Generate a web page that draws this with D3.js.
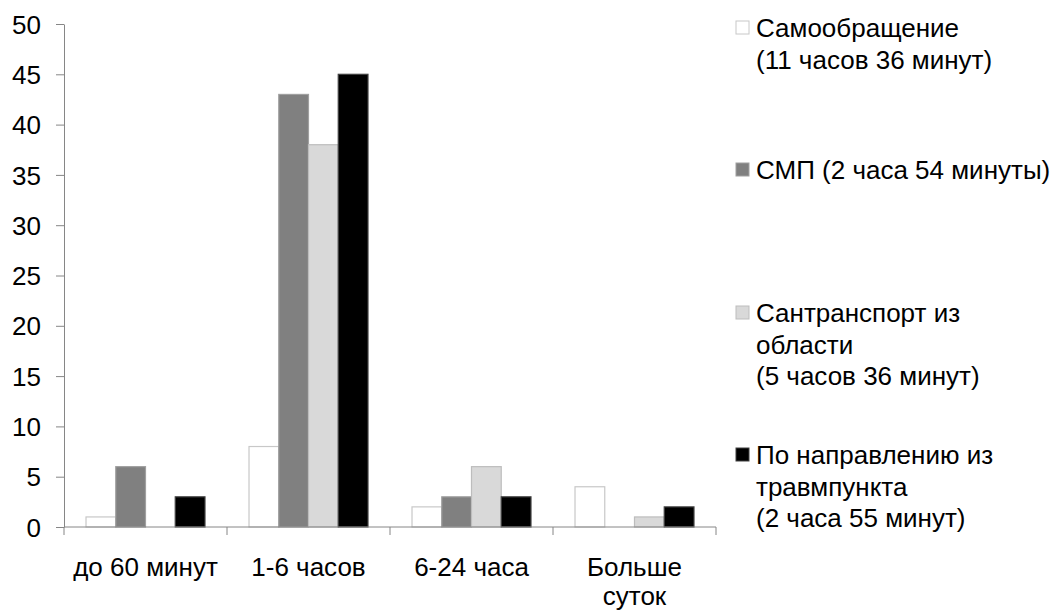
<!DOCTYPE html>
<html>
<head>
<meta charset="utf-8">
<script src="https://cdn.jsdelivr.net/npm/d3@7/dist/d3.min.js"></script>
<style>
  body { margin: 0; background: #fff; }
  svg text { font-family: "Liberation Sans", Arial, sans-serif; fill: #000; }
</style>
</head>
<body>
<div id="chart"></div>
<script>
// categories (x axis) and series
const categories = ["до 60 минут", "1-6 часов", "6-24 часа", "Больше суток"];
const categoryLines = [["до 60 минут"], ["1-6 часов"], ["6-24 часа"], ["Больше", "суток"]];

const seriesNames = ["Самообращение", "СМП", "Сантранспорт", "По направлению"];
const legendLines = [
  ["Самообращение", "(11 часов 36 минут)"],
  ["СМП (2 часа 54 минуты)"],
  ["Сантранспорт из", "области", "(5 часов 36 минут)"],
  ["По направлению из", "травмпункта", "(2 часа 55 минут)"]
];

// values per series, in category order
const selfValues = [1, 8, 2, 4];
const smpValues = [6, 43, 3, 0];
const transportValues = [0, 38, 6, 1];
const referralValues = [3, 45, 3, 2];

const yTicks = [0, 5, 10, 15, 20, 25, 30, 35, 40, 45, 50];

const seriesValues = [selfValues, smpValues, transportValues, referralValues];
const fills = ["#ffffff", "#808080", "#d9d9d9", "#000000"];
const strokes = ["#c8c8c8", "#a0a0a0", "#bdbdbd", "#404040"];

// dimensions
const totalWidth = 1059, totalHeight = 610;
const margin = {top: 24, left: 64};
const plotWidth = 652, plotHeight = 503;
const fontSize = "26px";

const svg = d3.select("#chart")
  .append("svg")
    .attr("width", totalWidth)
    .attr("height", totalHeight);

const g = svg.append("g")
    .attr("transform", "translate(" + margin.left + "," + margin.top + ")");

// scales
const x = d3.scaleBand()
  .domain(categories)
  .range([0, plotWidth])
  .padding(0);

const x1 = d3.scaleBand()
  .domain(seriesNames)
  .range([0, x.bandwidth()])
  .paddingInner(0)
  .paddingOuter(0.74);

const y = d3.scaleLinear()
  .domain([0, 50])
  .range([plotHeight, 0]);

// y axis
const yAxis = g.append("g")
  .call(d3.axisLeft(y).tickValues(yTicks).tickSize(8).tickPadding(15).tickSizeOuter(0));
yAxis.select(".domain").attr("stroke", "#868686");
yAxis.selectAll(".tick line").attr("stroke", "#868686");
yAxis.selectAll(".tick text")
  .style("font-size", fontSize)
  .attr("dy", "0.35em");

// bars
const data = [];
categories.forEach(function(c, i) {
  seriesNames.forEach(function(s, j) {
    data.push({cat: c, series: s, idx: j, value: seriesValues[j][i]});
  });
});

g.selectAll(".bar")
  .data(data.filter(function(d) { return d.value > 0; }))
  .enter()
  .append("rect")
    .attr("class", "bar")
    .attr("x", function(d) { return x(d.cat) + x1(d.series); })
    .attr("y", function(d) { return y(d.value); })
    .attr("width", x1.bandwidth())
    .attr("height", function(d) { return y(0) - y(d.value); })
    .attr("fill", function(d) { return fills[d.idx]; })
    .attr("stroke", function(d) { return strokes[d.idx]; })
    .attr("stroke-width", 1.2);

// x axis: line and ticks between categories
const xAxis = g.append("g")
  .attr("transform", "translate(0," + plotHeight + ")");

xAxis.append("line")
  .attr("x1", 0).attr("x2", plotWidth)
  .attr("y1", 0).attr("y2", 0)
  .attr("stroke", "#868686");

const boundaries = categories.map(function(c) { return x(c); }).concat([x.range()[1]]);
xAxis.selectAll(".xtick")
  .data(boundaries)
  .enter()
  .append("line")
    .attr("class", "xtick")
    .attr("x1", function(d) { return d; })
    .attr("x2", function(d) { return d; })
    .attr("y1", 0)
    .attr("y2", 8)
    .attr("stroke", "#868686");

const xLabels = xAxis.selectAll(".xlabel")
  .data(categories)
  .enter()
  .append("text")
    .attr("class", "xlabel")
    .attr("text-anchor", "middle")
    .style("font-size", fontSize)
    .attr("transform", function(d) { return "translate(" + (x(d) + x.bandwidth() / 2) + ",49)"; });

xLabels.each(function(d, i) {
  const t = d3.select(this);
  categoryLines[i].forEach(function(line, k) {
    t.append("tspan")
      .attr("x", 0)
      .attr("dy", k === 0 ? 0 : 29)
      .text(line);
  });
});

// legend
const legendX = 736;
const legendY = [28, 170, 313, 455];
const lineStep = 31.5;

const legend = svg.selectAll(".legend")
  .data(seriesNames)
  .enter()
  .append("g")
    .attr("class", "legend")
    .attr("transform", function(d, i) { return "translate(" + legendX + "," + legendY[i] + ")"; });

legend.append("rect")
  .attr("x", 0)
  .attr("y", -7)
  .attr("width", 13)
  .attr("height", 13)
  .attr("fill", function(d, i) { return fills[i]; })
  .attr("stroke", function(d, i) { return strokes[i]; });

legend.append("text")
  .style("font-size", fontSize)
  .each(function(d, i) {
    const t = d3.select(this);
    legendLines[i].forEach(function(line, k) {
      t.append("tspan")
        .attr("x", 20)
        .attr("dy", k === 0 ? "0.35em" : lineStep)
        .text(line);
    });
  });
</script>
</body>
</html>
